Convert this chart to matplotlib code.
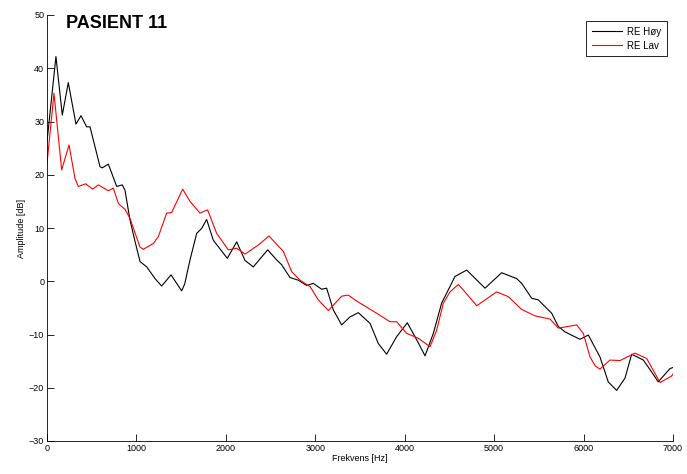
import matplotlib
matplotlib.use('Agg')
import matplotlib.pyplot as plt

# Values (frequency in Hz, amplitude in dB)
hoy_freq = [0, 100, 171, 238, 324, 380, 443, 481, 593, 619, 686, 779, 842, 872,
            928, 984, 1040, 1115, 1208, 1282, 1387, 1450, 1506, 1540, 1599,
            1674, 1729, 1785, 1860, 2016, 2121, 2214, 2307, 2468, 2568, 2624,
            2717, 2810, 2904, 2978, 3071, 3127, 3202, 3295, 3388, 3481, 3612,
            3705, 3798, 3910, 4029, 4134, 4227, 4320, 4413, 4506, 4562, 4693,
            4898, 5084, 5252, 5308, 5420, 5494, 5643, 5718, 5792, 5960, 6053,
            6183, 6276, 6370, 6463, 6538, 6668, 6760, 6835, 6966, 7000]
hoy_amp = [26.2, 42.2, 31.2, 37.3, 29.5, 31.1, 29.0, 29.0, 21.5, 21.3, 22.0,
           17.8, 18.1, 17.1, 11.5, 7.5, 3.7, 2.7, 0.5, -0.9, 1.2, -0.4, -1.8,
           -0.5, 4.0, 9.0, 9.9, 11.6, 7.7, 4.3, 7.4, 3.9, 2.7, 5.9, 4.0, 3.1,
           0.7, 0.2, -0.8, -0.4, -1.5, -1.3, -5.4, -8.2, -6.7, -5.9, -7.9,
           -11.7, -13.7, -10.4, -7.8, -11.0, -14.0, -9.8, -4.1, -1.0, 0.9, 2.1,
           -1.3, 1.6, 0.5, -0.4, -3.2, -3.5, -6.0, -8.5, -9.5, -10.9, -10.1,
           -14.2, -18.9, -20.5, -18.2, -13.7, -14.8, -17.0, -18.9, -16.4, -16.2]

lav_freq = [0, 78, 164, 246, 313, 350, 432, 511, 574, 686, 742, 798, 872, 928,
            1040, 1077, 1189, 1245, 1338, 1394, 1517, 1599, 1711, 1796, 1897,
            2027, 2121, 2214, 2363, 2482, 2643, 2736, 2829, 2941, 3034, 3146,
            3295, 3369, 3444, 3500, 3686, 3835, 3910, 4022, 4152, 4283, 4357,
            4432, 4506, 4600, 4674, 4805, 5028, 5159, 5308, 5457, 5625, 5718,
            5923, 5997, 6072, 6130, 6183, 6295, 6407, 6574, 6706, 6855, 6985,
            7000]
lav_amp = [22.1, 35.3, 20.9, 25.6, 19.3, 17.8, 18.3, 17.3, 18.1, 17.0, 17.5,
           14.6, 13.5, 11.8, 6.4, 6.0, 7.1, 8.4, 12.8, 12.9, 17.3, 15.0, 12.8,
           13.4, 9.0, 5.9, 6.2, 5.1, 6.8, 8.5, 5.6, 1.8, 0.2, -1.0, -3.5, -5.5,
           -2.8, -2.6, -3.5, -4.1, -6.0, -7.6, -7.6, -9.8, -10.7, -12.3, -9.2,
           -4.1, -2.0, -0.6, -2.0, -4.6, -2.0, -2.9, -5.3, -6.5, -7.1, -8.8,
           -8.2, -9.8, -14.2, -15.9, -16.5, -14.8, -14.9, -13.5, -14.5, -19.0,
           -17.8, -17.4]

x_ticks = [0, 1000, 2000, 3000, 4000, 5000, 6000, 7000]
y_ticks = [-30, -20, -10, 0, 10, 20, 30, 40, 50]

plt.rcParams['font.family'] = ['Liberation Sans', 'DejaVu Sans']

fig = plt.figure(figsize=(6.87, 4.74), dpi=100)
ax = fig.add_axes([47 / 687, 33 / 474, 626 / 687, 426 / 474])

ax.plot(hoy_freq, hoy_amp, color='black', linewidth=0.8, label='RE H\u00f8y')
ax.plot(lav_freq, lav_amp, color='red', linewidth=0.8, label='RE Lav')

ax.set_xlim(0, 7000)
ax.set_ylim(-30, 50)
ax.set_xticks(x_ticks)
ax.set_yticks(y_ticks)
ax.tick_params(direction='in', length=5, width=0.6, labelsize=6.5, pad=2)
ax.spines['top'].set_visible(False)
ax.spines['right'].set_visible(False)
for s in ['left', 'bottom']:
    ax.spines[s].set_linewidth(0.6)

ax.set_xlabel('Frekvens [Hz]', fontsize=6.5, labelpad=1)
ax.set_ylabel('Amplitude [dB]', fontsize=6.5, labelpad=2)

ax.text(0.030, 0.981, 'PASIENT 11', transform=ax.transAxes, fontsize=13,
        fontweight='bold', va='center', ha='left')

leg = ax.legend(loc='upper right', fontsize=7, handlelength=3.1,
                fancybox=False, edgecolor='black', framealpha=1,
                borderaxespad=0.6, borderpad=0.6, handletextpad=0.5,
                labelspacing=0.4)
leg.get_frame().set_linewidth(0.6)

fig.savefig('out.png', dpi=100)
